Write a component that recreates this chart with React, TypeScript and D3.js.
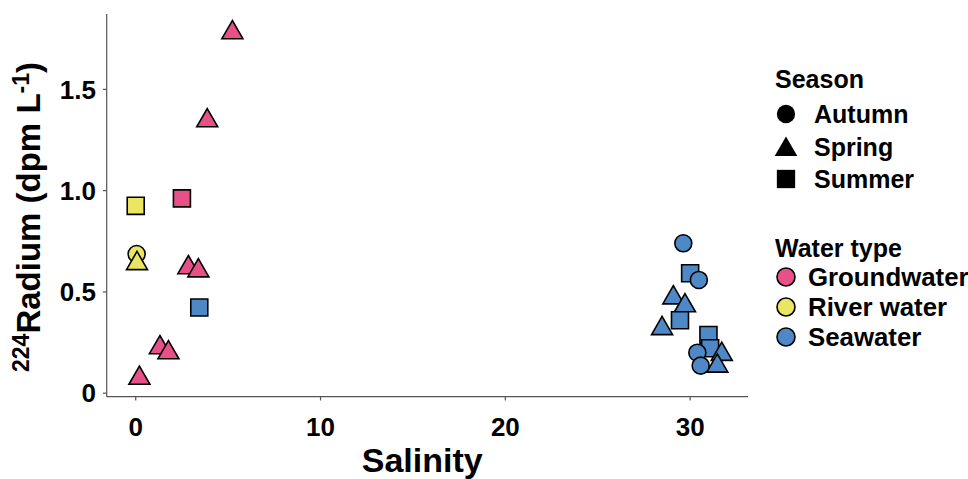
import React from "react";
import * as d3 from "d3";

const salinity = [5.23, 3.87, 2.5, 2.85, 3.39, 1.31, 1.77, 0.2, 0.0, 0.05, 0.07, 3.44, 29.63, 30.0, 30.47, 29.09, 29.72, 28.48, 29.45, 30.99, 31.08, 31.71, 30.39, 31.47, 30.57];
const radium = [1.78, 1.345, 0.962, 0.62, 0.604, 0.225, 0.2, 0.074, 0.925, 0.687, 0.64, 0.423, 0.74, 0.592, 0.559, 0.471, 0.432, 0.319, 0.36, 0.287, 0.222, 0.192, 0.2, 0.134, 0.136];
const season = ["Spring", "Spring", "Summer", "Spring", "Spring", "Spring", "Spring", "Spring", "Summer", "Autumn", "Spring", "Summer", "Autumn", "Summer", "Autumn", "Spring", "Spring", "Spring", "Summer", "Summer", "Summer", "Spring", "Autumn", "Spring", "Autumn"];
const waterType = ["Groundwater", "Groundwater", "Groundwater", "Groundwater", "Groundwater", "Groundwater", "Groundwater", "Groundwater", "River water", "River water", "River water", "Seawater", "Seawater", "Seawater", "Seawater", "Seawater", "Seawater", "Seawater", "Seawater", "Seawater", "Seawater", "Seawater", "Seawater", "Seawater", "Seawater"];

const seasons = ["Autumn", "Spring", "Summer"];
const waterTypes = ["Groundwater", "River water", "Seawater"];
const waterColors = ["#E8508A", "#EAE562", "#4F88C6"];
const xTicks = [0, 10, 20, 30];
const yTicks = [0, 0.5, 1.0, 1.5];
const yTickLabels = ["0", "0.5", "1.0", "1.5"];

const FONT = "'Liberation Sans', Arial, sans-serif";

function symbolPath(shape: string, cx: number, cy: number, s: number): string {
  if (shape === "Autumn") {
    const r = s * 1.09;
    return `M${cx - r},${cy}A${r},${r} 0 1,0 ${cx + r},${cy}A${r},${r} 0 1,0 ${cx - r},${cy}Z`;
  }
  if (shape === "Summer") {
    const h = s * 1.09;
    return `M${cx - h},${cy - h}H${cx + h}V${cy + h}H${cx - h}Z`;
  }
  const c = s;
  const top = cy - 1.555 * c;
  const base = cy + 0.778 * c;
  const hw = 1.3468 * c;
  return `M${cx},${top}L${cx + hw},${base}L${cx - hw},${base}Z`;
}

export default function App() {
  const x = d3.scaleLinear().domain([-1.57, 33.13]).range([106.7, 748]);
  const y = d3.scaleLinear().domain([-0.0173, 1.872]).range([396.7, 14]);
  const color = d3.scaleOrdinal<string, string>().domain(waterTypes).range(waterColors);
  const S = 7.8;

  return (
    <svg width={968} height={479} style={{ position: "absolute", left: 0, top: 0, background: "#fff" }} fontFamily={FONT}>
      {/* axes */}
      <line x1={x.range()[0]} x2={x.range()[1]} y1={396.7} y2={396.7} stroke="#555" strokeWidth={1.2} />
      <line x1={106.7} x2={106.7} y1={y.range()[1]} y2={y.range()[0]} stroke="#555" strokeWidth={1.2} />
      {xTicks.map((t) => (
        <g key={"xt" + t}>
          <line x1={x(t)} x2={x(t)} y1={396.7} y2={400.5} stroke="#555" strokeWidth={1.2} />
          <text x={x(t)} y={435.5} textAnchor="middle" fontWeight="bold" fontSize={26}>{t}</text>
        </g>
      ))}
      {yTicks.map((t, i) => (
        <g key={"yt" + t}>
          <line x1={102.9} x2={106.7} y1={y(t)} y2={y(t)} stroke="#555" strokeWidth={1.2} />
          <text x={96} y={y(t) + 9.3} textAnchor="end" fontWeight="bold" fontSize={26}>{yTickLabels[i]}</text>
        </g>
      ))}
      <text x={x(15.5)} y={472} textAnchor="middle" fontWeight="bold" fontSize={34}>Salinity</text>
      <text transform={`translate(40,217) rotate(-90)`} textAnchor="middle" fontWeight="bold" fontSize={33}>
        <tspan fontSize={23} dy={-11}>224</tspan>
        <tspan dy={11}>Radium (dpm L</tspan>
        <tspan fontSize={23} dy={-11}>-1</tspan>
        <tspan dy={11}>)</tspan>
      </text>

      {/* points */}
      {salinity.map((s, i) => (
        <path key={"p" + i} d={symbolPath(season[i], x(s), y(radium[i]), S)} fill={color(waterType[i])} stroke="#000" strokeWidth={1.6} />
      ))}

      {/* legend: season */}
      <text x={775} y={88.3} fontWeight="bold" fontSize={25}>Season</text>
      {seasons.map((s, i) => {
        const cy = 114 + i * 32.5;
        return (
          <g key={"ls" + s}>
            <path d={symbolPath(s, 786, s === "Spring" ? cy + 3 : cy, 8.4)} fill="#000" />
            <text x={814} y={cy + 9} fontWeight="bold" fontSize={25}>{s}</text>
          </g>
        );
      })}
      <text x={775} y={256.7} fontWeight="bold" fontSize={25}>Water type</text>
      {waterTypes.map((w, i) => {
        const cy = 277 + i * 30;
        return (
          <g key={"lw" + w}>
            <circle cx={786} cy={cy} r={9} fill={color(w)} stroke="#000" strokeWidth={1.6} />
            <text x={808} y={cy + 9.3} fontWeight="bold" fontSize={25.8}>{w}</text>
          </g>
        );
      })}
    </svg>
  );
}
